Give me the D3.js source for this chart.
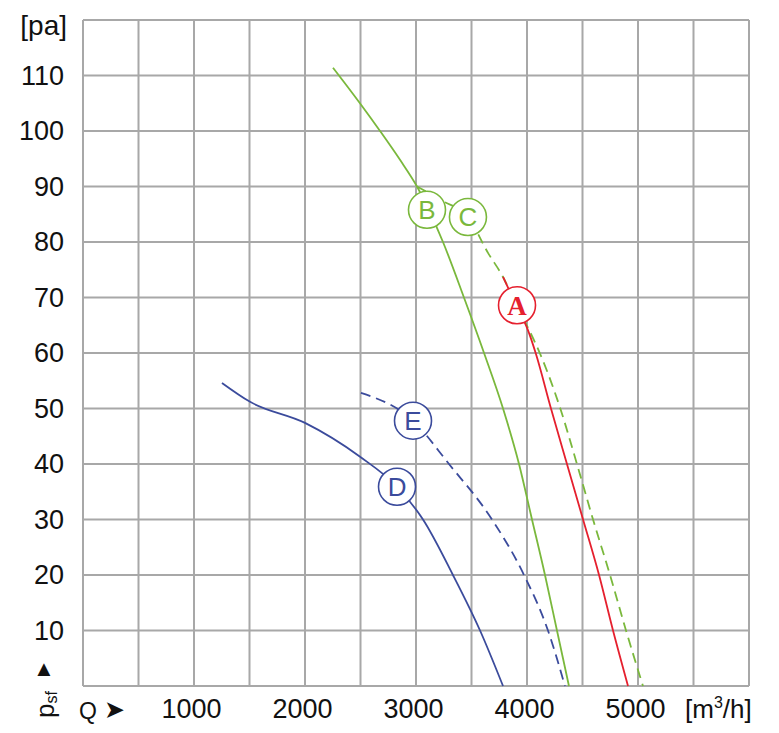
<!DOCTYPE html>
<html>
<head>
<meta charset="utf-8">
<script src="https://cdn.jsdelivr.net/npm/d3@7"></script>
<style>
  body { margin: 0; background: #fff; }
  text { font-family: "Liberation Sans", Arial, sans-serif; fill: #111; }
</style>
</head>
<body>
<svg id="chart" width="779" height="733"></svg>
<script>
// tick labels
const xTicks = [1000, 2000, 3000, 4000, 5000];
const yTicks = [10, 20, 30, 40, 50, 60, 70, 80, 90, 100, 110];

// curves, [Q m3/h, psf pa]
const curveA = [[3784, 73.7], [3905, 68.5], [4005, 64.3], [4078, 60], [4216, 50], [4360, 40], [4505, 30], [4649, 20], [4775, 10], [4910, 0]];
const curveB = [[2252, 111.4], [2306, 110], [2495, 105], [2676, 100], [2856, 94.8], [3009, 90], [3243, 80], [3432, 70], [3613, 60], [3784, 50], [3928, 40], [4045, 30], [4162, 20], [4270, 10], [4378, 0]];
const curveC = [[3009, 90], [3250, 87.3], [3468, 84.5], [3650, 78], [3784, 73.7], [3905, 68.6], [4015, 64.3], [4115, 60], [4300, 50], [4450, 40], [4595, 30], [4748, 20], [4892, 10], [5045, 0]];
const curveD = [[1252, 54.6], [1505, 51.2], [2000, 47.4], [2496, 41.3], [2829, 35.9], [3063, 30], [3333, 20], [3577, 10], [3784, 0]];
const curveE = [[2504, 52.8], [2973, 47.8], [3297, 40], [3685, 30], [3973, 20], [4189, 10], [4342, 0]];

// circle markers: letter, Q, psf
const markers = [
  { id: "A", q: 3910, p: 68.6 },
  { id: "B", q: 3099, p: 85.8 },
  { id: "C", q: 3468, p: 84.5 },
  { id: "D", q: 2829, p: 35.9 },
  { id: "E", q: 2973, p: 47.8 }
];

const green = "#7ab83c";
const red = "#e5202e";
const blue = "#3b4b9c";
const grid = "#a8a8a8";

const svg = d3.select("#chart");

const x = d3.scaleLinear().domain([0, 6000]).range([83, 749]);
const y = d3.scaleLinear().domain([0, 120]).range([686, 20]);

// grid
svg.append("g")
  .selectAll("line")
  .data(d3.range(0, 6001, 500))
  .join("line")
  .attr("x1", d => x(d)).attr("x2", d => x(d))
  .attr("y1", y(0)).attr("y2", y(120))
  .attr("stroke", grid).attr("stroke-width", 2);

svg.append("g")
  .selectAll("line")
  .data(d3.range(0, 121, 10))
  .join("line")
  .attr("x1", x(0)).attr("x2", x(6000))
  .attr("y1", d => y(d)).attr("y2", d => y(d))
  .attr("stroke", grid).attr("stroke-width", 2);

// axes (labels only)
const bottomAxis = d3.axisBottom(x).tickValues(xTicks).tickSize(0).tickPadding(0).tickFormat(d3.format("d"));
svg.append("g")
  .attr("class", "axis-x")
  .attr("transform", `translate(-3,${y(0) + 13})`)
  .call(bottomAxis)
  .call(g => g.select(".domain").remove())
  .selectAll("text")
  .attr("dy", "0.71em")
  .style("font-size", "27px")
  .attr("font-family", "Liberation Sans, Arial, sans-serif")
  .attr("fill", "#111");

const leftAxis = d3.axisLeft(y).tickValues(yTicks).tickSize(0).tickPadding(0);
svg.append("g")
  .attr("class", "axis-y")
  .attr("transform", `translate(64,0)`)
  .call(leftAxis)
  .call(g => g.select(".domain").remove())
  .selectAll("text")
  .attr("dy", "0.33em")
  .style("font-size", "27px")
  .attr("font-family", "Liberation Sans, Arial, sans-serif")
  .attr("fill", "#111");

// unit labels
svg.append("text")
  .attr("x", 67).attr("y", 35)
  .attr("text-anchor", "end")
  .style("font-size", "28px")
  .text("[pa]");

const unitX = svg.append("text")
  .attr("x", 685).attr("y", 718)
  .style("font-size", "26px");
unitX.append("tspan").text("[m");
unitX.append("tspan").attr("dy", -10).style("font-size", "16px").text("3");
unitX.append("tspan").attr("dy", 10).text("/h]");

svg.append("text")
  .attr("x", 79).attr("y", 719)
  .style("font-size", "23px")
  .text("Q");
svg.append("text")
  .attr("x", 104).attr("y", 718)
  .style("font-size", "25px")
  .text("➤");

const pLabel = svg.append("text")
  .attr("transform", "translate(54,718) rotate(-90)")
  .style("font-size", "26px");
pLabel.append("tspan").text("p");
pLabel.append("tspan").attr("dy", 3).style("font-size", "16px").text("sf");

svg.append("text")
  .attr("x", 44).attr("y", 676)
  .attr("text-anchor", "middle")
  .style("font-size", "22px")
  .text("▲");

// curves
const line = d3.line()
  .x(d => x(d[0]))
  .y(d => y(d[1]))
  .curve(d3.curveMonotoneX);

const series = [
  { data: curveD, color: blue, dash: null },
  { data: curveE, color: blue, dash: "10,6" },
  { data: curveC, color: green, dash: "10,6" },
  { data: curveB, color: green, dash: null },
  { data: curveA, color: red, dash: null }
];

svg.append("g")
  .selectAll("path")
  .data(series)
  .join("path")
  .attr("d", d => line(d.data))
  .attr("fill", "none")
  .attr("stroke", d => d.color)
  .attr("stroke-width", 1.8)
  .attr("stroke-dasharray", d => d.dash);

// markers
const markerColor = { A: red, B: green, C: green, D: blue, E: blue };
const mk = svg.append("g")
  .selectAll("g")
  .data(markers)
  .join("g")
  .attr("transform", d => `translate(${x(d.q)},${y(d.p)})`);

mk.append("circle")
  .attr("r", 18.5)
  .attr("fill", "#fff")
  .attr("stroke", d => markerColor[d.id])
  .attr("stroke-width", 1.6);

mk.append("text")
  .attr("text-anchor", "middle")
  .attr("dy", "0.36em")
  .style("font-size", d => d.id === "A" ? "27px" : "26px")
  .style("font-weight", d => d.id === "A" ? "bold" : "normal")
  .style("font-family", d => d.id === "A" ? "Liberation Serif, Times New Roman, serif" : "Liberation Sans, Arial, sans-serif")
  .style("fill", d => markerColor[d.id])
  .text(d => d.id);
</script>
</body>
</html>
